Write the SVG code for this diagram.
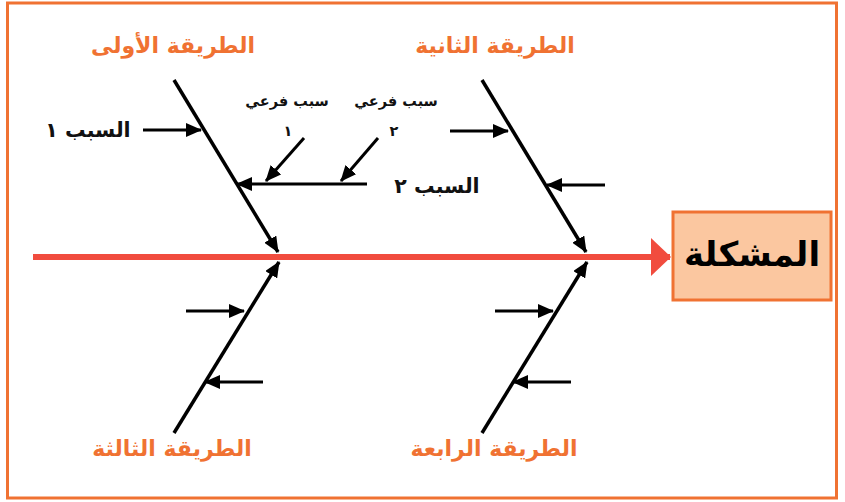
<svg xmlns="http://www.w3.org/2000/svg" width="845" height="502" viewBox="0 0 845 502">
<style>
text{font-family:"DejaVu Sans","Noto Sans",sans-serif;font-weight:bold;text-anchor:middle;dominant-baseline:middle}
.title{fill:#f07232;font-size:22px}
.cause{fill:#111;font-size:20.5px}
.sub{fill:#111;font-size:14.5px}
.bone{stroke:#000;stroke-width:3.5;fill:none}
.arr{stroke:#000;stroke-width:3;fill:none}
</style>
<defs>
<marker id="ah" viewBox="0 0 16 14" refX="15" refY="7" markerWidth="16" markerHeight="14" markerUnits="userSpaceOnUse" orient="auto">
<path d="M0,0 L16,7 L0,14 z" fill="#000"/>
</marker>
<marker id="rh" viewBox="0 0 20 38" refX="19" refY="19" markerWidth="20" markerHeight="38" markerUnits="userSpaceOnUse" orient="auto">
<path d="M0,0 L20,19 L0,38 z" fill="#f14c3e"/>
</marker>
</defs>
<rect x="7.5" y="3" width="829" height="495" fill="#fff" stroke="#f07232" stroke-width="3"/>
<g id="connectors">
<line x1="33" y1="257" x2="670" y2="257" stroke="#f14c3e" stroke-width="6" marker-end="url(#rh)"/>
<line class="bone" x1="174" y1="80" x2="278" y2="252" marker-end="url(#ah)"/>
<line class="bone" x1="482" y1="80" x2="586" y2="252" marker-end="url(#ah)"/>
<line class="bone" x1="174" y1="433" x2="279" y2="262" marker-end="url(#ah)"/>
<line class="bone" x1="482" y1="433" x2="587" y2="262" marker-end="url(#ah)"/>
<line class="arr" x1="143" y1="130" x2="201" y2="130" marker-end="url(#ah)"/>
<line class="arr" x1="367" y1="184" x2="237" y2="184" marker-end="url(#ah)"/>
<line class="arr" x1="304" y1="138" x2="266" y2="181" marker-end="url(#ah)"/>
<line class="arr" x1="378" y1="138" x2="341" y2="181" marker-end="url(#ah)"/>
<line class="arr" x1="450" y1="131" x2="508" y2="131" marker-end="url(#ah)"/>
<line class="arr" x1="605" y1="185" x2="547" y2="185" marker-end="url(#ah)"/>
<line class="arr" x1="186" y1="311" x2="244" y2="311" marker-end="url(#ah)"/>
<line class="arr" x1="263" y1="382" x2="205" y2="382" marker-end="url(#ah)"/>
<line class="arr" x1="495" y1="311" x2="553" y2="311" marker-end="url(#ah)"/>
<line class="arr" x1="571" y1="382" x2="513" y2="382" marker-end="url(#ah)"/>
</g>
<g id="problem">
<rect x="673" y="212" width="158" height="88" fill="#fbc7a0" stroke="#f07232" stroke-width="3"/>
<text x="752" y="256" style="font-size:34px;fill:#000">المشكلة</text>
</g>
<g id="bone1"><text class="title" x="173" y="47">الطريقة الأولى</text></g>
<g id="bone2"><text class="title" x="495" y="47">الطريقة الثانية</text></g>
<g id="bone3"><text class="title" x="172" y="450">الطريقة الثالثة</text></g>
<g id="bone4"><text class="title" x="494" y="450">الطريقة الرابعة</text></g>
<g id="cause1"><text class="cause" x="88" y="131">السبب ١</text></g>
<g id="cause2"><text class="cause" x="437" y="187">السبب ٢</text></g>
<g id="sub1"><text class="sub" x="287" y="102">سبب فرعي</text><text class="sub" x="288" y="132">١</text></g>
<g id="sub2"><text class="sub" x="396" y="102">سبب فرعي</text><text class="sub" x="394" y="132">٢</text></g>
</svg>
